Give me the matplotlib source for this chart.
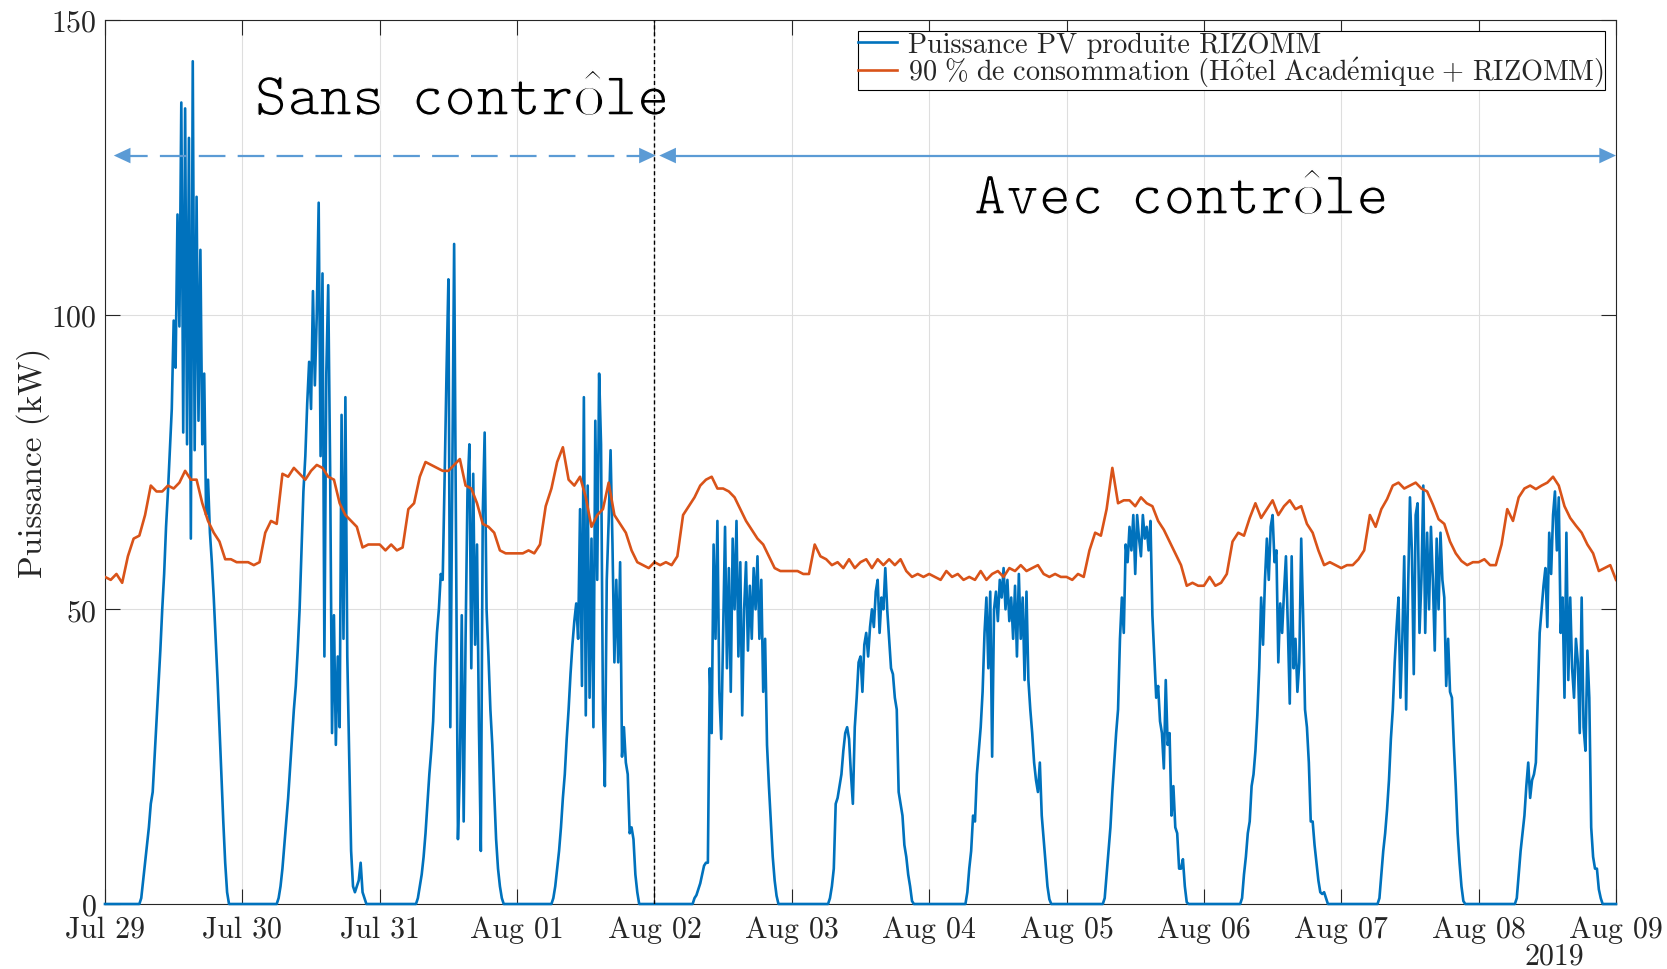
import datetime as dt
import matplotlib
matplotlib.use("Agg")
import matplotlib.pyplot as plt
import matplotlib.patheffects as pe

# ---------------- data ----------------
start_date = dt.datetime(2019, 7, 29)
n_days = 11
split_day = 4          # Aug 02 : start of "Avec contrôle"
arrow_level = 127      # kW, height of the double arrows

tick_labels = ["Jul 29", "Jul 30", "Jul 31", "Aug 01", "Aug 02", "Aug 03",
               "Aug 04", "Aug 05", "Aug 06", "Aug 07", "Aug 08", "Aug 09"]
year_label = "2019"
y_ticks = [0, 50, 100, 150]

# PV power (kW), one value every 20 min from 06:00 to 21:40, zero at night
pv_first_hour = 6
pv_step_min = 20
pv_jul29 = [0, 1, 4, 7, 10, 13, 17, 19, 25, 31, 37, 43, 50, 56, 64, 70, 77, 84,
            99, 91, 117, 98, 136, 80, 135, 78, 130, 62, 143, 77, 120, 82, 111, 78,
            90, 66, 72, 63, 58, 52, 45, 38, 30, 22, 14, 7, 2, 0]
pv_jul30 = [0, 1, 3, 6, 10, 14, 18, 23, 28, 33, 37, 43, 50, 60, 70, 76, 85, 92,
            84, 104, 88, 100, 119, 76, 107, 42, 90, 105, 74, 29, 49, 27, 42, 30,
            83, 45, 86, 42, 25, 9, 3, 2, 3, 4, 7, 2, 1, 0]
pv_jul31 = [0, 0, 1, 3, 5, 8, 12, 17, 22, 26, 31, 40, 46, 50, 56, 55, 72, 90,
            106, 30, 70, 112, 60, 11, 23, 49, 14, 45, 70, 78, 40, 73, 44, 61,
            30, 9, 66, 80, 50, 42, 33, 27, 19, 11, 6, 3, 1, 0]
pv_aug01 = [0, 1, 3, 6, 9, 13, 18, 22, 28, 33, 39, 44, 48, 51, 45, 67, 37, 86,
            32, 71, 35, 62, 30, 82, 55, 90, 78, 33, 20, 55, 65, 77, 61, 41, 55,
            41, 58, 25, 30, 24, 22, 12, 13, 11, 5, 2, 0, 0]
pv_aug02 = [0, 0, 0, 1, 1.5, 2.5, 3.5, 5, 6.5, 7, 7, 40, 29, 61, 45, 65, 36, 28,
            46, 64, 40, 57, 36, 62, 50, 65, 42, 58, 32, 50, 58, 43, 54, 45, 57,
            50, 59, 45, 55, 36, 45, 27, 20, 14, 8, 4, 1.4, 0]
pv_aug03 = [0, 0, 1, 3, 6, 17, 18, 20, 22, 26, 29, 30, 28, 22, 17, 30, 35, 41,
            42, 36, 44, 46, 42, 47, 50, 47, 53, 55, 46, 52, 50, 57, 50, 45, 40,
            39, 35, 33, 19, 17, 15, 10, 8, 5, 3, 0.5, 0, 0]
pv_aug04 = [0, 0, 2, 6, 9, 15, 14, 22, 26, 30, 36, 46, 52, 40, 53, 25, 50, 53,
            48, 55, 52, 57, 50, 55, 48, 52, 45, 54, 42, 56, 45, 52, 38, 53, 38,
            33, 29, 24, 21, 19, 24, 15, 11, 7, 3, 0.8, 0, 0]
pv_aug05 = [0, 0, 1, 5, 9, 13, 19, 24, 29, 33, 45, 52, 46, 61, 58, 64, 60, 66,
            56, 66, 62, 59, 66, 62, 64, 60, 65, 49, 42, 35, 37, 31, 29, 23, 38,
            27, 29, 15, 20, 13, 12, 6, 6, 7.6, 3, 0.3, 0, 0]
pv_aug06 = [0, 0, 1, 5, 8, 12, 14, 20, 22, 26, 32, 40, 52, 44, 55, 62, 55, 64,
            66, 58, 60, 41, 51, 46, 53, 59, 47, 34, 59, 40, 45, 36, 41, 62, 49,
            33, 30, 24, 14, 14, 10, 7, 4, 2, 1.7, 2, 1, 0]
pv_aug07 = [0, 0, 1, 5, 9, 12, 16, 21, 28, 33, 41, 47, 52, 35, 45, 59, 33, 53,
            69, 60, 39, 66, 68, 46, 55, 71, 46, 63, 50, 64, 55, 43, 62, 50, 63,
            55, 52, 37, 45, 36, 35, 27, 20, 12, 7, 3, 0.5, 0]
pv_aug08 = [0, 0, 1, 5, 9, 12, 15, 20, 24, 18, 21, 22, 24, 35, 46, 50, 54, 57,
            47, 63, 56, 66, 70, 60, 69, 46, 52, 35, 63, 38, 52, 40, 35, 45, 41,
            29, 52, 30, 26, 43, 35, 13, 8, 6, 6, 2.5, 1, 0]

# 90 % of consumption (kW), hourly values 00:00 .. 23:00
conso_jul29 = [55.5, 55, 56, 54.5, 59, 62, 62.5, 66, 71, 70, 70, 71, 70.5, 71.5,
               73.5, 72, 72, 68, 65, 63, 61.5, 58.5, 58.5, 58]
conso_jul30 = [58, 58, 57.5, 58, 63, 65, 64.5, 73, 72.5, 74, 73, 72, 73.5, 74.5,
               74, 72.5, 72, 68, 66, 65, 64, 60.5, 61, 61]
conso_jul31 = [61, 60, 61, 60, 60.5, 67, 68, 72.5, 75, 74.5, 74, 73.5, 73.5, 74.5,
               75.5, 71, 70.5, 68, 64.5, 64, 63, 60, 59.5, 59.5]
conso_aug01 = [59.5, 59.5, 60, 59.5, 61, 67.5, 70.5, 75, 77.5, 72, 71, 72.5, 69,
               64, 66, 67, 71.5, 66, 64.5, 63, 60, 58, 57.5, 57]
conso_aug02 = [58, 57.5, 58, 57.5, 59, 66, 67.5, 69, 71, 72, 72.5, 70.5, 70.5, 70,
               69, 67, 65, 63.5, 62, 61, 59, 57, 56.5, 56.5]
conso_aug03 = [56.5, 56.5, 56, 56, 61, 59, 58.5, 57.5, 58, 57, 58.5, 57, 58, 58.5,
               57, 58.5, 57.5, 58.5, 57.5, 58.5, 56.5, 55.5, 56, 55.5]
conso_aug04 = [56, 55.5, 55, 56.5, 55.5, 56, 55, 55.5, 55, 56.5, 55, 56, 56.5,
               55.5, 57, 56.5, 57.5, 56.5, 57, 57.5, 56, 55.5, 56, 55.5]
conso_aug05 = [55.5, 55, 56, 55.5, 60, 63, 62.5, 67, 74, 68, 68.5, 68.5, 67.5, 69,
               68, 67.5, 65, 63.5, 61.5, 59.5, 57.5, 54, 54.5, 54]
conso_aug06 = [54, 55.5, 54, 54.5, 56, 61.5, 63, 62.5, 65.5, 68, 65.5, 67, 68.5,
               66, 67.5, 68.5, 67, 67.5, 64.5, 63, 60, 57.5, 58, 57.5]
conso_aug07 = [57, 57.5, 57.5, 58.5, 60, 66, 64, 67, 68.7, 71, 71.5, 70.5, 71,
               71.5, 70.5, 70, 67.8, 65.3, 64.5, 61.5, 59.5, 58.2, 57.5, 58]
conso_aug08 = [58, 58.5, 57.5, 57.5, 61, 67, 65, 69, 70.5, 71, 70.4, 71, 71.5,
               72.5, 71, 67.5, 65.5, 64.2, 63, 61, 59.5, 56.5, 57, 57.5]
conso_last = 55

label_pv = "Puissance PV produite RIZOMM"
label_conso = (r"$\mathrm{90\ \%\ de\ consommation\ "
               r"(H\hat{o}tel\ Acad\acute{e}mique\ {+}\ RIZOMM)}$")
text_sans = r"$\mathtt{Sans\enspace contr}\mathrm{\hat{o}}\mathtt{le}$"
text_avec = r"$\mathtt{Avec\enspace contr}\mathrm{\hat{o}}\mathtt{le}$"
ylabel = "Puissance (kW)"

pv_days = [pv_jul29, pv_jul30, pv_jul31, pv_aug01, pv_aug02, pv_aug03,
           pv_aug04, pv_aug05, pv_aug06, pv_aug07, pv_aug08]
conso_days = [conso_jul29, conso_jul30, conso_jul31, conso_aug01, conso_aug02,
              conso_aug03, conso_aug04, conso_aug05, conso_aug06, conso_aug07,
              conso_aug08]

# ---------------- build series ----------------
pv_t = [start_date]
pv_v = [0.0]
for d, vals in enumerate(pv_days):
    for i, v in enumerate(vals):
        pv_t.append(start_date + dt.timedelta(days=d, hours=pv_first_hour,
                                              minutes=pv_step_min * i))
        pv_v.append(v)
pv_t.append(start_date + dt.timedelta(days=n_days))
pv_v.append(0.0)

conso_t, conso_v = [], []
for d, vals in enumerate(conso_days):
    for h, v in enumerate(vals):
        conso_t.append(start_date + dt.timedelta(days=d, hours=h))
        conso_v.append(v)
conso_t.append(start_date + dt.timedelta(days=n_days))
conso_v.append(conso_last)

# ---------------- style ----------------
plt.rcParams["font.family"] = "serif"
plt.rcParams["font.serif"] = ["cmr10"]
plt.rcParams["mathtext.fontset"] = "cm"
plt.rcParams["axes.formatter.use_mathtext"] = True
plt.rcParams["axes.unicode_minus"] = False

W, H = 1667, 970
fig = plt.figure(figsize=(W / 100, H / 100), dpi=100)
ax_l, ax_r, ax_t, ax_b = 105, 1616, 21, 905
ax = fig.add_axes([ax_l / W, 1 - ax_b / H, (ax_r - ax_l) / W, (ax_b - ax_t) / H])

c_pv = "#0072BD"
c_conso = "#D95319"
c_arrow = "#5B9BD5"
axis_col = "#262626"

ax.plot(pv_t, pv_v, color=c_pv, lw=1.9, label=label_pv, zorder=3, clip_on=False)
ax.plot(conso_t, conso_v, color=c_conso, lw=1.9, label=label_conso, zorder=4)

t0 = start_date
t_end = start_date + dt.timedelta(days=n_days)
t_split = start_date + dt.timedelta(days=split_day)
ax.set_xlim(t0, t_end)
ax.set_ylim(0, 150)

xt = [start_date + dt.timedelta(days=d) for d in range(n_days + 1)]
ax.set_xticks(xt)
ax.set_xticklabels(tick_labels)
ax.set_yticks(y_ticks)
ax.tick_params(direction="in", top=True, right=True, length=10.8, width=0.8,
               colors=axis_col, labelsize=21.5, labelcolor=axis_col)
ax.tick_params(axis="x", pad=8)
ax.tick_params(axis="y", pad=6)
for s in ax.spines.values():
    s.set_color(axis_col)
    s.set_linewidth(0.8)
ax.grid(True, color="#dedede", lw=0.8, zorder=0)
ax.set_axisbelow(True)

ax.set_ylabel(ylabel, fontsize=24, color=axis_col, labelpad=1)

# vertical separator
ax.axvline(t_split, color="black", lw=1.0, ls=(0, (3, 2)), zorder=5)

# arrows
def head(tip, back):
    ax.annotate("", xy=(tip, arrow_level), xytext=(back, arrow_level),
                arrowprops=dict(arrowstyle="-|>,head_length=0.6,head_width=0.28",
                                color=c_arrow, lw=0, shrinkA=0, shrinkB=0,
                                mutation_scale=20), zorder=6)

dash_l = start_date + dt.timedelta(days=0.064)
dash_r = start_date + dt.timedelta(days=split_day + 0.01)
solid_l = start_date + dt.timedelta(days=split_day + 0.035)
solid_r = t_end
small = dt.timedelta(days=0.15)
ax.plot([dash_l + dt.timedelta(days=0.05), dash_r - dt.timedelta(days=0.05)],
        [arrow_level, arrow_level], color=c_arrow, lw=1.6, ls=(0, (12, 5.5)), zorder=6)
ax.plot([solid_l + dt.timedelta(days=0.05), solid_r - dt.timedelta(days=0.05)],
        [arrow_level, arrow_level], color=c_arrow, lw=1.6, zorder=6)
head(dash_l, dash_l + small)
head(dash_r, dash_r - small)
head(solid_l, solid_l + small)
head(solid_r, solid_r - small)

thin = [pe.Normal(), pe.Stroke(linewidth=1.0, foreground="white")]
ax.text(0.099, 0.8925, text_sans, transform=ax.transAxes,
        fontsize=44.5, va="baseline", ha="left", color="black", path_effects=thin)
ax.text(0.575, 0.7805, text_avec, transform=ax.transAxes,
        fontsize=44.5, va="baseline", ha="left", color="black", path_effects=thin)

leg = ax.legend(loc="upper right", bbox_to_anchor=(1 - 11 / 1511, 1 - 11 / 884),
                borderaxespad=0, fontsize=20.3, frameon=True, fancybox=False,
                framealpha=1, edgecolor="black", handlelength=1.37,
                handletextpad=0.4, labelspacing=-0.1, borderpad=0.02)
leg.get_frame().set_linewidth(0.8)
for t in leg.get_texts():
    t.set_color(axis_col)

fig.text(1554 / W, 1 - 957 / H, year_label, ha="center", va="center",
         fontsize=21.5, color=axis_col)

fig.savefig("out.png", dpi=100)
